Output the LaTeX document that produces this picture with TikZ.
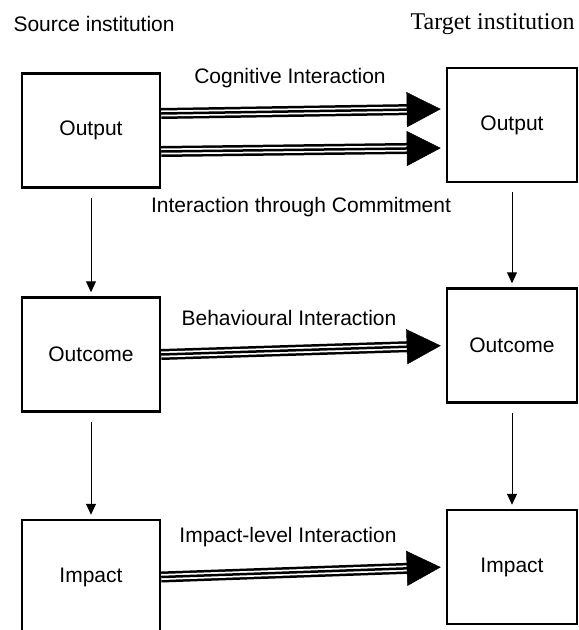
\documentclass[tikz,border=0pt]{standalone}
\usepackage{fontspec}
\setmainfont{Liberation Sans}
\newfontfamily\instserif{Liberation Serif}
\usetikzlibrary{arrows.meta,positioning}
\tikzset{
    level/.style={draw, line width=2.5pt, minimum width=138pt, minimum height=114pt, inner sep=0pt},
    flow/.style={-{Triangle[length=11pt, width=10pt]}, line width=1pt, shorten <=9pt, shorten >=4pt},
    interaction/.style={-{Triangle[length=34pt, width=35pt]}, line width=0.5pt, shorten >=5pt,
        preaction={draw, -, line width=11pt, shorten >=37pt},
        preaction={draw=white, -, line width=6pt, shorten >=37pt},
        postaction={draw, -, line width=2.5pt, shorten >=37pt}}
}

\begin{document}
\begin{tikzpicture}[x=1pt, y=-1pt, font=\fontsize{21}{25}\selectfont]
    \path[use as bounding box] (0,0) rectangle (579,630);
    \clip (0,0) rectangle (579,630);
    \node[anchor=west] (srcinst) at (10,24) {Source institution};
    \node[anchor=east, font=\instserif\fontsize{24}{28}\selectfont] (tgtinst) at (578,24) {Target institution};

    \node[level] (srcoutput) at (91,130.5) {Output};
    \node[level] (srcoutcome) at (91,354.5) {Outcome};
    \node[level] (srcimpact) at (91,577) {Impact};
    \node[level, minimum width=130pt] (tgtoutput) at (512,125) {Output};
    \node[level, minimum width=130pt] (tgtoutcome) at (512,345.5) {Outcome};
    \node[level, minimum width=130pt] (tgtimpact) at (512,567) {Impact};

    \draw[flow] (srcoutput.south) -- (srcoutcome.north);
    \draw[flow] (srcoutcome.south) -- (srcimpact.north);
    \draw[flow] (tgtoutput.south) -- (tgtoutcome.north);
    \draw[flow] (tgtoutcome.south) -- (tgtimpact.north);

    \draw[interaction] ([yshift=17pt]srcoutput.east) -- ([yshift=16pt]tgtoutput.west);
    \draw[interaction] ([yshift=-21pt]srcoutput.east) -- ([yshift=-23pt]tgtoutput.west);
    \draw[interaction] (srcoutcome.east) -- (tgtoutcome.west);
    \draw[interaction] (srcimpact.east) -- (tgtimpact.west);

    \node (cognitive) at (290,78) {Cognitive Interaction};
    \node (commitment) at (301,207) {Interaction through Commitment};
    \node (behavioural) at (289,318) {Behavioural Interaction};
    \node (impactlevel) at (288,537) {Impact-level Interaction};
\end{tikzpicture}
\end{document}
